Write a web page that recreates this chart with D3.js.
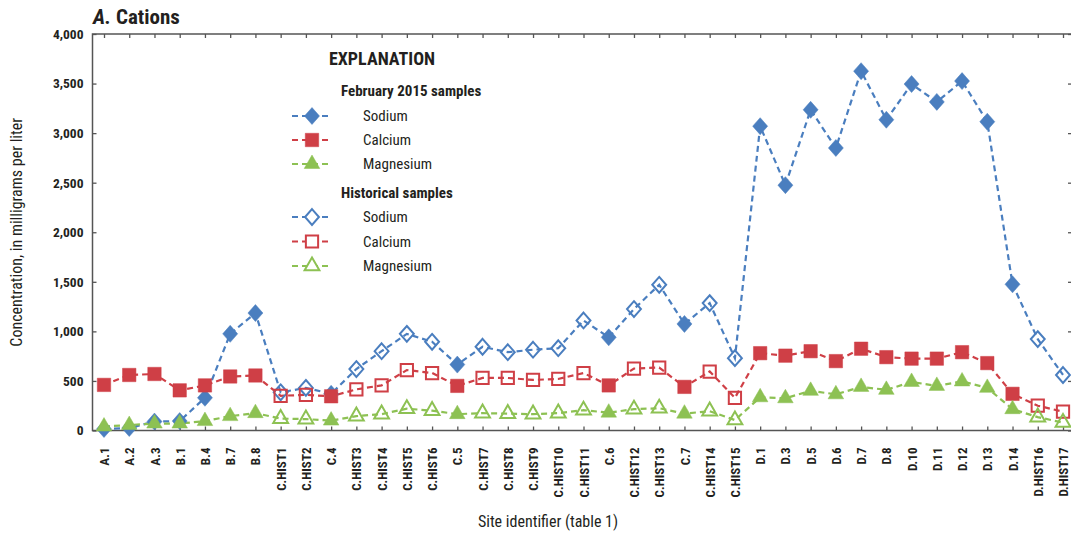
<!DOCTYPE html>
<html><head><meta charset="utf-8">
<script src="https://cdn.jsdelivr.net/npm/d3@7"></script>
<style>
html,body{margin:0;padding:0;background:#fff;}
svg{display:block;}
text{font-family:"Liberation Sans Narrow","Roboto Condensed","DejaVu Sans Condensed","Liberation Sans",sans-serif;fill:#231f20;}
</style></head>
<body>
<svg id="chart" width="1071" height="535"></svg>
<script>
const categories = ["A.1","A.2","A.3","B.1","B.4","B.7","B.8","C.HIST1","C.HIST2","C.4","C.HIST3","C.HIST4","C.HIST5","C.HIST6","C.5","C.HIST7","C.HIST8","C.HIST9","C.HIST10","C.HIST11","C.6","C.HIST12","C.HIST13","C.7","C.HIST14","C.HIST15","D.1","D.3","D.5","D.6","D.7","D.8","D.10","D.11","D.12","D.13","D.14","D.HIST16","D.HIST17"];
const sodium    = [15,25,90,95,330,975,1185,385,430,370,620,800,975,895,665,845,790,815,830,1110,940,1225,1470,1075,1285,730,3070,2475,3235,2850,3625,3135,3495,3315,3525,3115,1475,922,560];
const calcium   = [460,560,570,405,455,545,555,350,360,345,415,455,610,580,450,530,530,510,520,580,455,625,635,440,595,330,780,755,800,700,825,740,725,725,790,680,370,250,190];
const magnesium = [40,55,70,70,95,145,175,120,115,100,145,165,220,200,165,175,170,165,175,205,180,215,225,170,195,105,335,325,400,365,440,410,490,450,495,430,215,135,80];
const yTicks = [0,500,1000,1500,2000,2500,3000,3500,4000];
const colors = {Sodium:"#4a7ebf", Calcium:"#cf3f46", Magnesium:"#8dc153"};

const svg = d3.select("#chart");
const L = 92.5, R = 1072, T = 34, B = 430.5;

const x = d3.scalePoint().domain(categories).range([104, 1063]);
const y = d3.scaleLinear().domain([0,4000]).range([B, T]);
const isHist = c => c.indexOf("HIST") >= 0;

const wideDiamond = {draw(ctx, size){
  const k = Math.sqrt(size/128);
  const w = 7.5*k, h = 8.5*k;
  ctx.moveTo(0,-h); ctx.lineTo(w,0); ctx.lineTo(0,h); ctx.lineTo(-w,0); ctx.closePath();
}};

const series = [
  {name:"Sodium", values:sodium, sym:wideDiamond, size:128, hsize:110},
  {name:"Calcium", values:calcium, sym:d3.symbolSquare, size:180, hsize:150},
  {name:"Magnesium", values:magnesium, sym:d3.symbolTriangle, size:105, hsize:95}
];

const axisColor = "#555";
svg.append("rect").attr("x",L).attr("y",T).attr("width",R-L).attr("height",B-T)
  .attr("fill","none").attr("stroke",axisColor).attr("stroke-width",1.5);

const yAxis = d3.axisLeft(y).tickValues(yTicks).tickSize(-4).tickPadding(9)
  .tickFormat(d3.format(","));
const gy = svg.append("g").attr("transform",`translate(${L},0)`).call(yAxis);
gy.select(".domain").remove();
gy.selectAll(".tick line").attr("stroke",axisColor).attr("stroke-width",1.3);
gy.selectAll(".tick text").attr("font-size",13.5).attr("fill","#231f20").attr("font-weight","bold")
  .style("font-family",'"Liberation Sans Narrow","Roboto Condensed",sans-serif');

const gyr = svg.append("g").attr("transform",`translate(${R},0)`)
  .call(d3.axisRight(y).tickValues(yTicks).tickSize(-4).tickFormat(""));
gyr.select(".domain").remove();
gyr.selectAll(".tick line").attr("stroke",axisColor).attr("stroke-width",1.3);

const xAxis = d3.axisBottom(x).tickSize(-4).tickPadding(0);
const gx = svg.append("g").attr("transform",`translate(0,${B})`).call(xAxis);
gx.select(".domain").remove();
gx.selectAll(".tick line").attr("stroke",axisColor).attr("stroke-width",1.3);
gx.selectAll(".tick text")
  .attr("transform","rotate(-90)")
  .attr("text-anchor","end")
  .attr("x",-17).attr("y",0).attr("dy","0.35em")
  .attr("font-size",13).attr("font-weight","bold").attr("fill","#231f20");

const gxt = svg.append("g").attr("transform",`translate(0,${T})`)
  .call(d3.axisTop(x).tickSize(-4).tickFormat(""));
gxt.select(".domain").remove();
gxt.selectAll(".tick line").attr("stroke",axisColor).attr("stroke-width",1.3);

const line = d3.line().x((d,i)=>x(categories[i])).y(d=>y(d));
series.forEach(s=>{
  svg.append("path").datum(s.values).attr("d",line)
    .attr("fill","none").attr("stroke",colors[s.name]).attr("stroke-width",2.2)
    .attr("stroke-dasharray","6,4");
});
series.forEach(s=>{
  svg.append("g").selectAll("path").data(s.values).join("path")
    .attr("d",(d,i)=>d3.symbol().type(s.sym).size(isHist(categories[i]) ? s.hsize : s.size)())
    .attr("transform",(d,i)=>`translate(${x(categories[i])},${y(d)})`)
    .attr("fill",(d,i)=>isHist(categories[i]) ? "none" : colors[s.name])
    .attr("stroke",colors[s.name])
    .attr("stroke-width",(d,i)=>isHist(categories[i]) ? 2 : 0.5);
});

const title = svg.append("text").attr("x",93).attr("y",24).attr("font-size",21).attr("font-weight","bold");
title.append("tspan").attr("font-style","italic").text("A.");
title.append("tspan").text(" Cations");

svg.append("text").attr("transform",`translate(22,${(T+B)/2}) rotate(-90)`)
  .attr("text-anchor","middle").attr("font-size",16).text("Concentration, in milligrams per liter");
svg.append("text").attr("x",548).attr("y",527).attr("text-anchor","middle")
  .attr("font-size",16).text("Site identifier (table 1)");

const lg = svg.append("g");
lg.append("text").attr("x",382).attr("y",65).attr("text-anchor","middle")
  .attr("font-size",18).attr("font-weight","bold").text("EXPLANATION");
const groups = [
  {title:"February 2015 samples", ty:96, rows:[116,140,164], hist:false},
  {title:"Historical samples", ty:198, rows:[217,241.5,266], hist:true}
];
groups.forEach(g=>{
  lg.append("text").attr("x",341).attr("y",g.ty).attr("font-size",15).attr("font-weight","bold").text(g.title);
  series.forEach((s,k)=>{
    const cy = g.rows[k];
    lg.append("line").attr("x1",292).attr("x2",332).attr("y1",cy).attr("y2",cy)
      .attr("stroke",colors[s.name]).attr("stroke-width",2.2).attr("stroke-dasharray","6,4");
    lg.append("path").attr("d",d3.symbol().type(s.sym).size(g.hist ? s.hsize : s.size)())
      .attr("transform",`translate(312,${cy})`)
      .attr("fill",g.hist ? "#fff" : colors[s.name]).attr("stroke",colors[s.name])
      .attr("stroke-width",g.hist?2:0.5);
    lg.append("text").attr("x",363).attr("y",cy).attr("dy","0.35em").attr("font-size",15).text(s.name);
  });
});
</script>
</body></html>
